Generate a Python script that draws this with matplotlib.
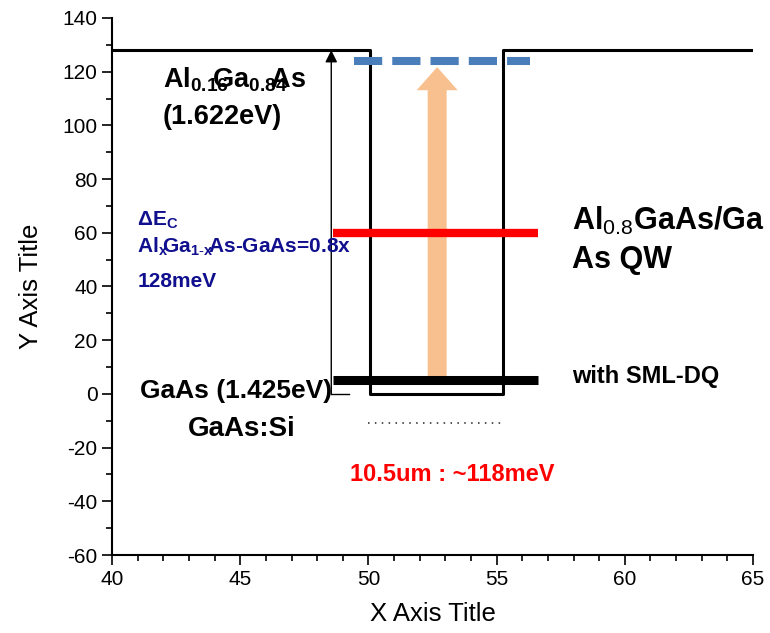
import matplotlib.pyplot as plt
import matplotlib.ticker as ticker

plt.rcParams.update({'font.family': 'Liberation Sans', 'font.size': 15,
                     'axes.unicode_minus': False,
                     'mathtext.fontset': 'custom',
                     'mathtext.rm': 'Liberation Sans',
                     'mathtext.default': 'regular'})

# quantum well band profile (black outline)
well_x = [40, 50.05, 50.05, 55.25, 55.25, 65]
well_y = [128, 128, 0, 0, 128, 128]

# energy levels
level_x = [48.6, 56.6]
ground_y = 5.2
excited_y = 60
upper_x = [49.45, 56.3]
upper_y = 124
dot_x = [50.0, 55.2]
dot_y = -11

# delta Ec marker
dec_x = 48.55
dec_y = [0, 128]

# transition arrow
trans_x = 52.68
trans_y = [6, 121.7]

fig = plt.figure(figsize=(7.7, 6.33), dpi=100)
ax = fig.add_axes([0.1455, 0.1232, 0.8325, 0.8484])

ax.plot(well_x, well_y, color='black', lw=2.2, zorder=3)

ax.arrow(trans_x, trans_y[0], 0, trans_y[1] - trans_y[0], width=0.74,
         head_width=1.6, head_length=8.6, length_includes_head=True,
         color='#f8c08e', lw=0, zorder=2)

ax.plot(level_x, [excited_y, excited_y], color='red', lw=6, solid_capstyle='butt', zorder=4)
ax.plot(level_x, [ground_y, ground_y], color='black', lw=6.5, solid_capstyle='butt', zorder=4)
ax.plot(upper_x, [upper_y, upper_y], color='#4a7ebb', lw=5.8, linestyle=(0, (3.5, 1.25)),
        dash_capstyle='butt', zorder=4)
ax.plot(dot_x, [dot_y, dot_y], color='#222222', lw=1.1, linestyle=(0, (1, 3.5)), zorder=3)

# delta Ec arrow
ax.annotate('', xy=(dec_x, dec_y[1]), xytext=(dec_x, dec_y[0]),
            arrowprops=dict(arrowstyle='-|>', color='black', lw=1,
                            mutation_scale=18, shrinkA=0, shrinkB=0), zorder=3)
ax.plot([dec_x, 49.25], [0, 0], color='black', lw=1, zorder=3)

navy = '#10108f'
ax.text(41.99, 114, r'Al$_{0.16}\hspace{-0.6}$Ga$_{0.84}\hspace{-0.6}$As', fontsize=19.5,
        fontweight='bold', va='baseline')
ax.text(41.99, 100.5, '(1.622eV)', fontsize=19.5, fontweight='bold', va='baseline')
ax.text(40.98, 62.5, r'ΔE$_C$', fontsize=15, fontweight='bold', color=navy, va='baseline')
ax.text(40.98, 52.5, r'Al$_x\hspace{-0.2}$Ga$_{1\text{-}x}\hspace{-0.2}$As-GaAs=0.8x',
        fontsize=15, fontweight='bold', color=navy, va='baseline')
ax.text(40.98, 39.8, '128meV', fontsize=15, fontweight='bold', color=navy, va='baseline')
ax.text(57.94, 61, r'Al$_{\mathrm{0.8}}$GaAs/Ga', fontsize=22, fontweight='bold', va='baseline')
ax.text(57.94, 46.9, 'As QW', fontsize=22, fontweight='bold', va='baseline')
ax.text(57.94, 4.1, 'with SML-DQ', fontsize=17, fontweight='bold', va='baseline')
ax.text(41.09, -1.5, 'GaAs (1.425eV)', fontsize=19, fontweight='bold', va='baseline')
ax.text(42.96, -15.6, 'GaAs:Si', fontsize=20, fontweight='bold', va='baseline')
ax.text(49.28, -32.4, '10.5um : ~118meV', fontsize=17, fontweight='bold', color='red',
        va='baseline')

ax.set_xlim(40, 65)
ax.set_ylim(-60, 140)
ax.xaxis.set_major_locator(ticker.MultipleLocator(5))
ax.xaxis.set_minor_locator(ticker.MultipleLocator(1))
ax.yaxis.set_major_locator(ticker.MultipleLocator(20))
ax.yaxis.set_minor_locator(ticker.MultipleLocator(10))
ax.tick_params(which='major', direction='out', length=7, width=1.2, labelsize=15)
ax.tick_params(which='minor', direction='out', length=4, width=1.2)
for s in ['top', 'right']:
    ax.spines[s].set_visible(False)
for s in ['left', 'bottom']:
    ax.spines[s].set_linewidth(1.5)

ax.set_xlabel('X Axis Title', fontsize=18.5, labelpad=10)
ax.set_ylabel('Y Axis Title', fontsize=18.5, labelpad=14)

fig.savefig('out.png', dpi=100)
